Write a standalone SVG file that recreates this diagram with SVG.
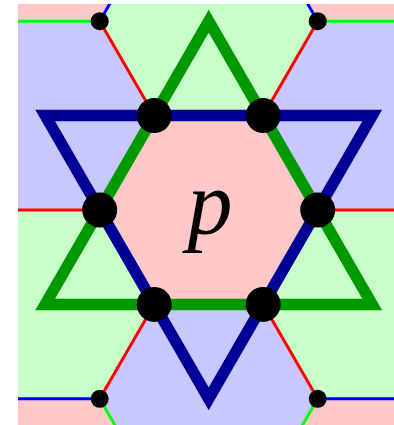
<svg xmlns="http://www.w3.org/2000/svg" width="394" height="425" viewBox="0 0 394 425">
<style>
.pk{fill:#ffc8c8}.gn{fill:#c8ffc8}.bl{fill:#c8c8ff}
.e{fill:none;stroke-width:3}
.er{stroke:#ff0000}.eg{stroke:#00ff00}.eb{stroke:#0000ff}
.tri{fill:none;stroke-width:11.5;stroke-linejoin:miter;stroke-miterlimit:10}
.dot{fill:#000}
</style>
<defs>
<clipPath id="clip"><rect x="18" y="4" width="376" height="421"/></clipPath>
<polygon id="hex" points="109,0 54.5,-94.4 -54.5,-94.4 -109,0 -54.5,94.4 54.5,94.4"/>
</defs>
<g id="background" clip-path="url(#clip)">
<rect x="18" y="4" width="376" height="421" class="pk"/>
<use href="#hex" x="208.7" y="210" class="pk"/>
<use href="#hex" x="208.7" y="21.2" class="gn"/>
<use href="#hex" x="45.2" y="304.4" class="gn"/>
<use href="#hex" x="372.2" y="304.4" class="gn"/>
<use href="#hex" x="208.7" y="398.8" class="bl"/>
<use href="#hex" x="45.2" y="115.6" class="bl"/>
<use href="#hex" x="372.2" y="115.6" class="bl"/>
<use href="#hex" x="45.2" y="-73.2" class="pk"/>
<use href="#hex" x="372.2" y="-73.2" class="pk"/>
<use href="#hex" x="45.2" y="493.2" class="pk"/>
<use href="#hex" x="372.2" y="493.2" class="pk"/>
</g>
<g id="connectors" clip-path="url(#clip)">
<line class="e eg" x1="-10" y1="21.2" x2="99.7" y2="21.2"/>
<line class="e eb" x1="99.7" y1="21.2" x2="154.2" y2="-73.2"/>
<line class="e er" x1="99.7" y1="21.2" x2="154.2" y2="115.6"/>
<line class="e eg" x1="317.7" y1="21.2" x2="400" y2="21.2"/>
<line class="e eb" x1="317.7" y1="21.2" x2="263.2" y2="-73.2"/>
<line class="e er" x1="317.7" y1="21.2" x2="263.2" y2="115.6"/>
<line class="e er" x1="-10" y1="210" x2="99.7" y2="210"/>
<line class="e er" x1="317.7" y1="210" x2="400" y2="210"/>
<line class="e eb" x1="-10" y1="398.8" x2="99.7" y2="398.8"/>
<line class="e eg" x1="99.7" y1="398.8" x2="154.2" y2="493.2"/>
<line class="e er" x1="99.7" y1="398.8" x2="154.2" y2="304.4"/>
<line class="e eb" x1="317.7" y1="398.8" x2="400" y2="398.8"/>
<line class="e eg" x1="317.7" y1="398.8" x2="263.2" y2="493.2"/>
<line class="e er" x1="317.7" y1="398.8" x2="263.2" y2="304.4"/>
</g>
<g id="green-triangle">
<polygon class="tri" stroke="#009900" points="208.7,21.2 372.2,304.4 45.2,304.4"/>
</g>
<g id="blue-triangle">
<polygon class="tri" stroke="#000099" points="45.2,115.6 372.2,115.6 208.7,398.8"/>
</g>
<g id="vertices">
<circle class="dot" cx="154.2" cy="115.6" r="17.5"/>
<circle class="dot" cx="263.2" cy="115.6" r="17.5"/>
<circle class="dot" cx="99.7" cy="210" r="17.5"/>
<circle class="dot" cx="317.7" cy="210" r="17.5"/>
<circle class="dot" cx="154.2" cy="304.4" r="17.5"/>
<circle class="dot" cx="263.2" cy="304.4" r="17.5"/>
<circle class="dot" cx="99.7" cy="21.2" r="9"/>
<circle class="dot" cx="317.7" cy="21.2" r="9"/>
<circle class="dot" cx="99.7" cy="398.8" r="9"/>
<circle class="dot" cx="317.7" cy="398.8" r="9"/>
</g>
<g id="label">
<text x="210" y="234" font-family="'Liberation Serif', 'DejaVu Serif', serif" font-style="italic" font-size="90" text-anchor="middle">p</text>
</g>
</svg>
